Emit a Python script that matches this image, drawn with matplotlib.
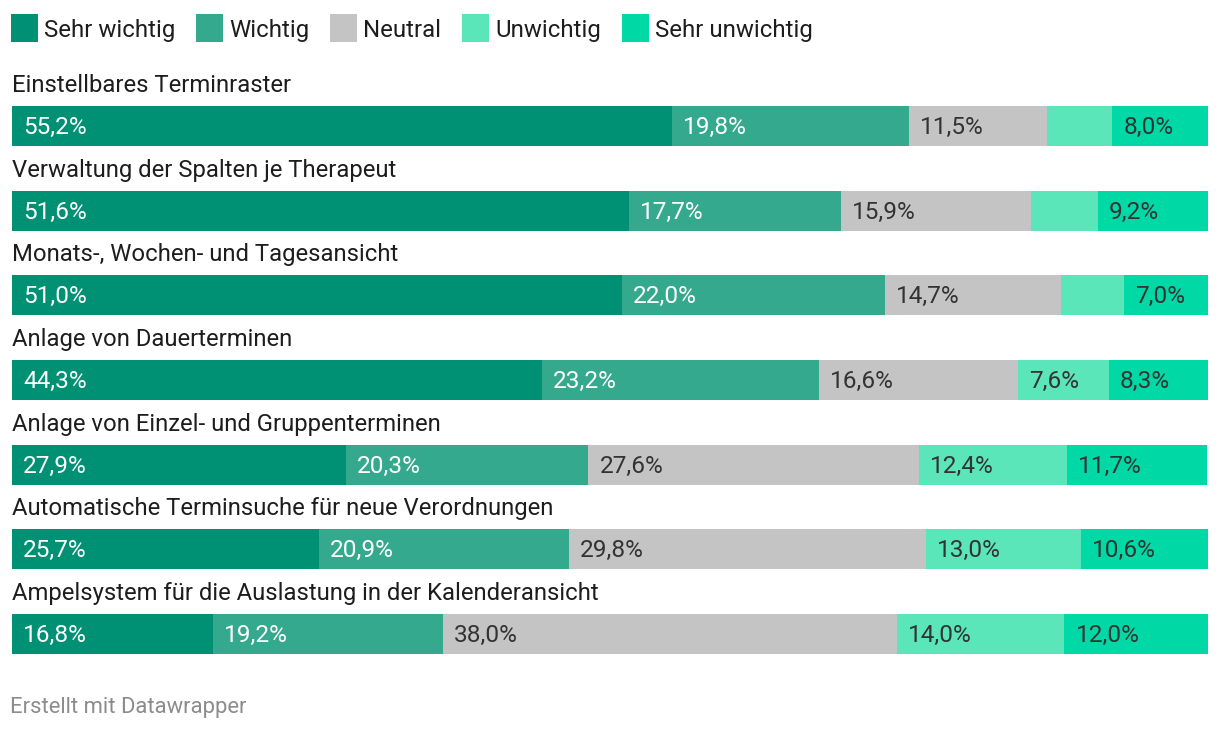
import matplotlib.pyplot as plt
from matplotlib.patches import Rectangle

# Daten
kategorien = [
    "Einstellbares Terminraster",
    "Verwaltung der Spalten je Therapeut",
    "Monats-, Wochen- und Tagesansicht",
    "Anlage von Dauerterminen",
    "Anlage von Einzel- und Gruppenterminen",
    "Automatische Terminsuche für neue Verordnungen",
    "Ampelsystem für die Auslastung in der Kalenderansicht",
]
serien = ["Sehr wichtig", "Wichtig", "Neutral", "Unwichtig", "Sehr unwichtig"]
sehr_wichtig = [55.2, 51.6, 51.0, 44.3, 27.9, 25.7, 16.8]
wichtig = [19.8, 17.7, 22.0, 23.2, 20.3, 20.9, 19.2]
neutral = [11.5, 15.9, 14.7, 16.6, 27.6, 29.8, 38.0]
unwichtig = [5.5, 5.6, 5.3, 7.6, 12.4, 13.0, 14.0]
sehr_unwichtig = [8.0, 9.2, 7.0, 8.3, 11.7, 10.6, 12.0]
werte = [sehr_wichtig, wichtig, neutral, unwichtig, sehr_unwichtig]

farben = ["#009175", "#35a98e", "#c4c4c4", "#5ae6b9", "#00d9a6"]
textfarben = ["white", "white", "#333333", "#333333", "#333333"]

plt.rcParams["font.family"] = ["Roboto", "DejaVu Sans"]

W, H = 1220, 732
fig = plt.figure(figsize=(W / 100, H / 100), dpi=100)

# Achse fuer die Balken
zeile = 84.67
balken = 40
top_px, bottom_px = 106, 654
ax = fig.add_axes([12 / W, (H - bottom_px) / H, 1196 / W, (bottom_px - top_px) / H])
halb = balken / zeile / 2
ax.set_xlim(0, 100)
ax.set_ylim(len(kategorien) - 1 + halb, -halb)
ax.axis("off")

y = list(range(len(kategorien)))
links = [0.0] * len(kategorien)
for s, vals in enumerate(werte):
    ax.barh(y, vals, left=links, height=balken / zeile, color=farben[s], linewidth=0)
    for i, v in enumerate(vals):
        if v >= 6:
            ax.text(links[i] + 11 / 1196 * 100, i + 8 / zeile, f"{v:.1f}%".replace(".", ","),
                    color=textfarben[s], fontsize=17.6, va="baseline", ha="left")
    links = [a + b for a, b in zip(links, vals)]

for i, k in enumerate(kategorien):
    ax.text(0, i - 34 / zeile, k, fontsize=17.2, color="#1d1d1d", va="baseline", ha="left",
            clip_on=False)

# Legende
fig.canvas.draw()
r = fig.canvas.get_renderer()
x = 11
for s, name in enumerate(serien):
    fig.patches.append(Rectangle((x / W, (H - 42) / H), 27 / W, 28 / H,
                                 transform=fig.transFigure, color=farben[s], linewidth=0))
    t = fig.text((x + 33) / W, (H - 37) / H, name, fontsize=17.3, color="#1d1d1d",
                 va="baseline", ha="left")
    bb = t.get_window_extent(renderer=r)
    x = bb.x1 + 21

fig.text(10 / W, (H - 713) / H, "Erstellt mit Datawrapper", fontsize=15.8, color="#8c8c8c",
         va="baseline", ha="left")

fig.savefig("out.png", dpi=100)
